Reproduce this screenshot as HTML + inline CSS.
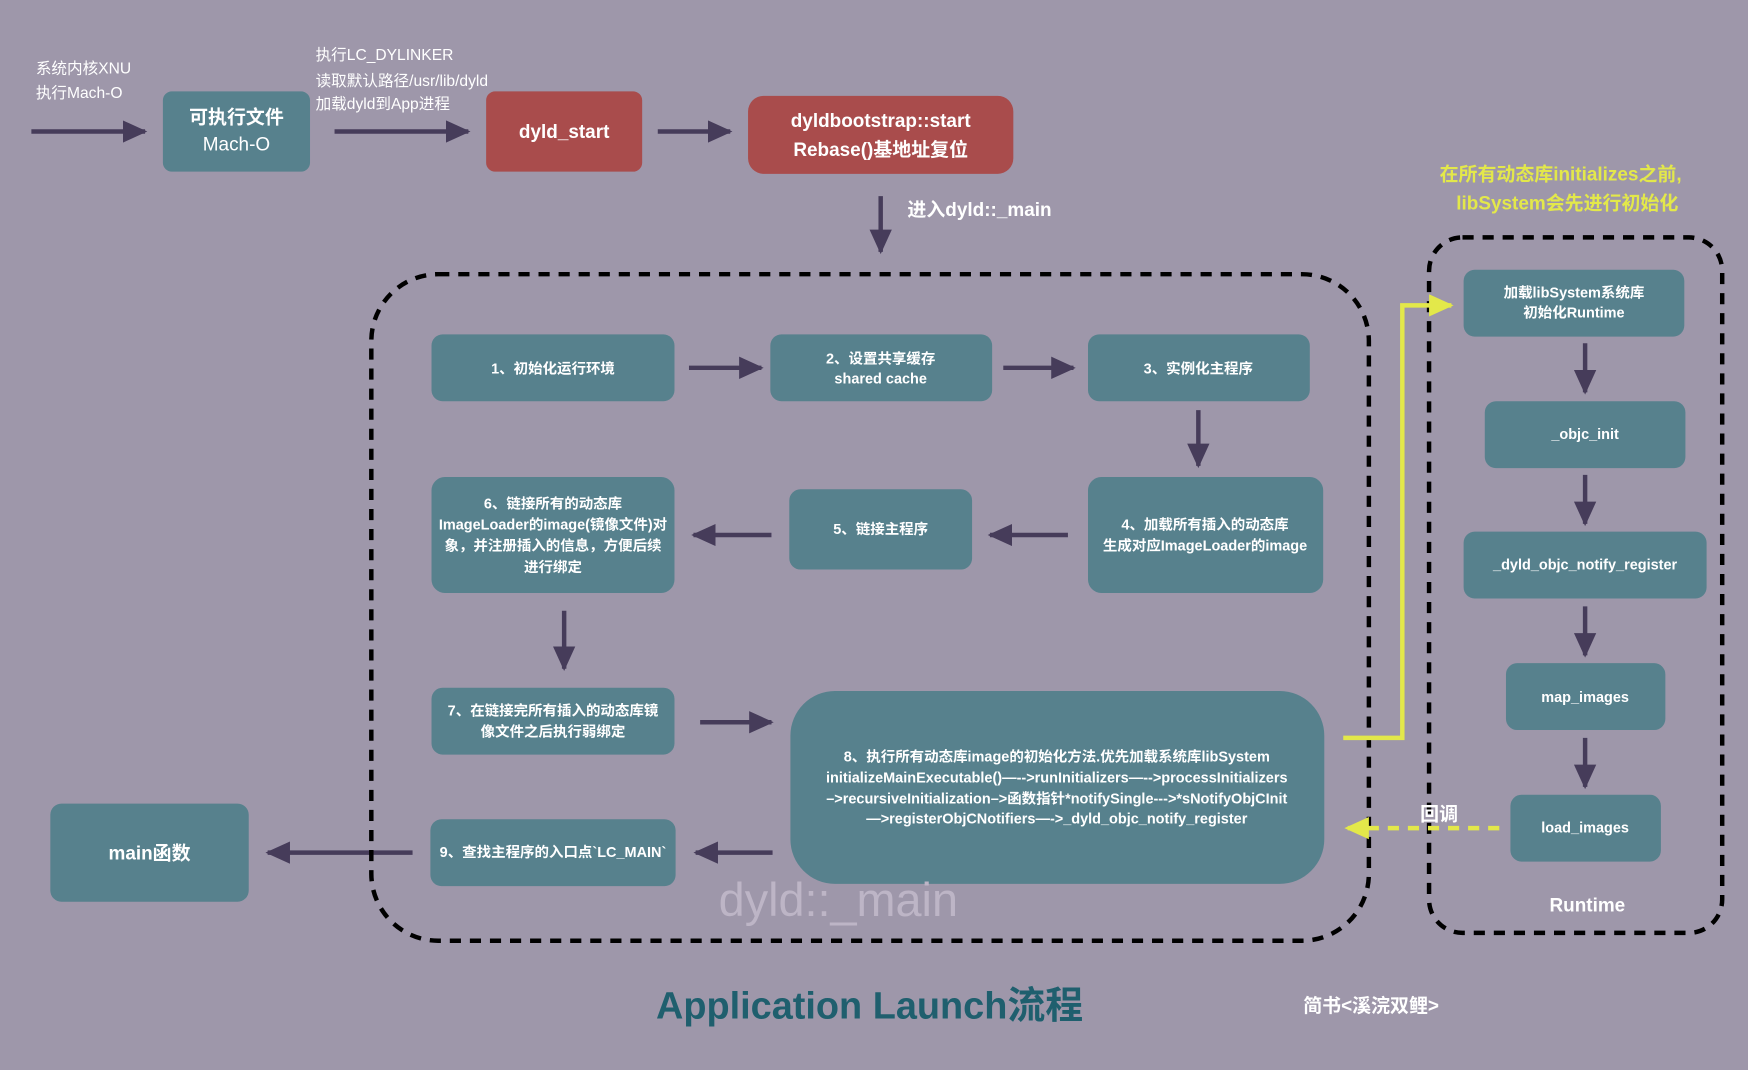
<!DOCTYPE html>
<html><head><meta charset="utf-8"><style>
html,body{margin:0;padding:0;background:#9e97aa;}
svg{display:block}
text{font-family:"Liberation Sans","Noto Sans CJK SC",sans-serif;fill:#fff}
.b{fill:#57818d}
.r{fill:#a94c4c}
.t{font-size:13px;font-weight:bold;text-anchor:middle}
</style></head><body>
<svg width="1748" height="1070" viewBox="0 0 1568 960" xmlns="http://www.w3.org/2000/svg">
<defs>
<marker id="a" markerWidth="10" markerHeight="10" refX="8" refY="5" orient="auto" markerUnits="userSpaceOnUse"><path d="M0,0 L10,5 L0,10 Z" fill="#463c5a"/></marker>
<marker id="a2" markerWidth="24" markerHeight="24" refX="20" refY="10" orient="auto" markerUnits="userSpaceOnUse"><path d="M0,0 L22,10 L0,20 Z" fill="#463c5a"/></marker>
<marker id="y" markerWidth="24" markerHeight="24" refX="20" refY="10" orient="auto" markerUnits="userSpaceOnUse"><path d="M0,0 L22,10 L0,20 Z" fill="#e3e84a"/></marker>
</defs>
<rect width="1568" height="960" fill="#9e97aa"/>
<g stroke="#463c5a" stroke-width="4" fill="none" marker-end="url(#a2)">
<line x1="28" y1="118" x2="130" y2="118"/>
<line x1="300" y1="118" x2="420" y2="118"/>
<line x1="590" y1="118" x2="655" y2="118"/>
<line x1="790" y1="176" x2="790" y2="226"/>
<line x1="618" y1="330" x2="683" y2="330"/>
<line x1="900" y1="330" x2="963" y2="330"/>
<line x1="1075" y1="368" x2="1075" y2="418"/>
<line x1="958" y1="480" x2="888" y2="480"/>
<line x1="692" y1="480" x2="622" y2="480"/>
<line x1="506" y1="548" x2="506" y2="600"/>
<line x1="628" y1="648" x2="692" y2="648"/>
<line x1="693" y1="765" x2="624" y2="765"/>
<line x1="370" y1="765" x2="240" y2="765"/>
<line x1="1422" y1="308" x2="1422" y2="352"/>
<line x1="1422" y1="426" x2="1422" y2="470"/>
<line x1="1422" y1="544" x2="1422" y2="588"/>
<line x1="1422" y1="662" x2="1422" y2="706"/>
</g>
<text x="32" y="66" font-size="14">系统内核XNU</text>
<text x="32" y="88" font-size="14">执行Mach-O</text>
<text x="283" y="54" font-size="14">执行LC_DYLINKER</text>
<text x="283" y="77" font-size="14">读取默认路径/usr/lib/dyld</text>
<text x="283" y="98" font-size="14">加载dyld到App进程</text>
<rect class="b" x="146" y="82" width="132" height="72" rx="8"/>
<text x="212" y="111" font-size="17" font-weight="bold" text-anchor="middle">可执行文件</text>
<text x="212" y="135" font-size="17" text-anchor="middle">Mach-O</text>
<rect class="r" x="436" y="82" width="140" height="72" rx="8"/>
<text x="506" y="124" font-size="17" font-weight="bold" text-anchor="middle">dyld_start</text>
<rect class="r" x="671" y="86" width="238" height="70" rx="14"/>
<text x="790" y="114" font-size="17" font-weight="bold" text-anchor="middle">dyldbootstrap::start</text>
<text x="790" y="140" font-size="17" font-weight="bold" text-anchor="middle">Rebase()基地址复位</text>
<text x="814" y="194" font-size="17" font-weight="bold">进入dyld::_main</text>
<rect x="333" y="246" width="895" height="598" rx="60" fill="none" stroke="#000" stroke-width="4" stroke-dasharray="10,8"/>
<rect class="b" x="387" y="300" width="218" height="60" rx="10"/>
<text class="t" x="496" y="335">1、初始化运行环境</text>
<rect class="b" x="691" y="300" width="199" height="60" rx="10"/>
<text class="t" x="790" y="326">2、设置共享缓存</text>
<text class="t" x="790" y="344">shared cache</text>
<rect class="b" x="976" y="300" width="199" height="60" rx="10"/>
<text class="t" x="1075" y="335">3、实例化主程序</text>
<rect class="b" x="976" y="428" width="211" height="104" rx="12"/>
<text class="t" x="1081" y="475">4、加载所有插入的动态库</text>
<text class="t" x="1081" y="494">生成对应ImageLoader的image</text>
<rect class="b" x="708" y="439" width="164" height="72" rx="10"/>
<text class="t" x="790" y="479">5、链接主程序</text>
<rect class="b" x="387" y="428" width="218" height="104" rx="12"/>
<text class="t" x="496" y="456">6、链接所有的动态库</text>
<text class="t" x="496" y="475">ImageLoader的image(镜像文件)对</text>
<text class="t" x="496" y="494">象，并注册插入的信息，方便后续</text>
<text class="t" x="496" y="513">进行绑定</text>
<rect class="b" x="387" y="617" width="218" height="60" rx="10"/>
<text class="t" x="496" y="642">7、在链接完所有插入的动态库镜</text>
<text class="t" x="496" y="661">像文件之后执行弱绑定</text>
<rect class="b" x="709" y="620" width="479" height="173" rx="40"/>
<text class="t" x="948" y="683">8、执行所有动态库image的初始化方法.优先加载系统库libSystem</text>
<text class="t" x="948" y="702">initializeMainExecutable()—-->runInitializers—-->processInitializers</text>
<text class="t" x="948" y="721">–>recursiveInitialization–>函数指针*notifySingle--->*sNotifyObjCInit</text>
<text class="t" x="948" y="739">—>registerObjCNotifiers—->_dyld_objc_notify_register</text>
<rect class="b" x="386" y="735" width="220" height="60" rx="10"/>
<text class="t" x="496" y="769">9、查找主程序的入口点`LC_MAIN`</text>
<rect class="b" x="45" y="721" width="178" height="88" rx="10"/>
<text x="134" y="771" font-size="17" font-weight="bold" text-anchor="middle">main函数</text>
<text x="752" y="822" font-size="42" text-anchor="middle" style="fill:#bdb5c6">dyld::_main</text>
<rect x="1282" y="213" width="263" height="624" rx="30" fill="none" stroke="#000" stroke-width="4" stroke-dasharray="10,8"/>
<rect class="b" x="1313" y="242" width="198" height="60" rx="10"/>
<text class="t" x="1412" y="267" font-size="12">加载libSystem系统库</text>
<text class="t" x="1412" y="285" font-size="12">初始化Runtime</text>
<rect class="b" x="1332" y="360" width="180" height="60" rx="10"/>
<text class="t" x="1422" y="394" font-size="12">_objc_init</text>
<rect class="b" x="1313" y="477" width="218" height="60" rx="10"/>
<text class="t" x="1422" y="511" font-size="12">_dyld_objc_notify_register</text>
<rect class="b" x="1351" y="595" width="143" height="60" rx="10"/>
<text class="t" x="1422" y="630" font-size="12">map_images</text>
<rect class="b" x="1355" y="713" width="135" height="60" rx="10"/>
<text class="t" x="1422" y="747" font-size="12">load_images</text>
<text x="1424" y="818" font-size="17" font-weight="bold" text-anchor="middle">Runtime</text>
<text x="1400" y="162" font-size="17" font-weight="bold" text-anchor="middle" style="fill:#e3e84a">在所有动态库initializes之前,</text>
<text x="1406" y="188" font-size="17" font-weight="bold" text-anchor="middle" style="fill:#e3e84a">libSystem会先进行初始化</text>
<polyline points="1205,662 1258,662 1258,274 1302,274" fill="none" stroke="#e3e84a" stroke-width="4" marker-end="url(#y)"/>
<line x1="1345" y1="743" x2="1208" y2="743" stroke="#e3e84a" stroke-width="4" stroke-dasharray="10,8" marker-end="url(#y)"/>
<text x="1274" y="736" font-size="17" font-weight="bold">回调</text>
<text x="780" y="914" font-size="34" font-weight="bold" text-anchor="middle" style="fill:#1f5f6e">Application Launch流程</text>
<text x="1230" y="908" font-size="17" font-weight="bold" text-anchor="middle">简书&lt;溪浣双鲤&gt;</text>
</svg>
</body></html>
